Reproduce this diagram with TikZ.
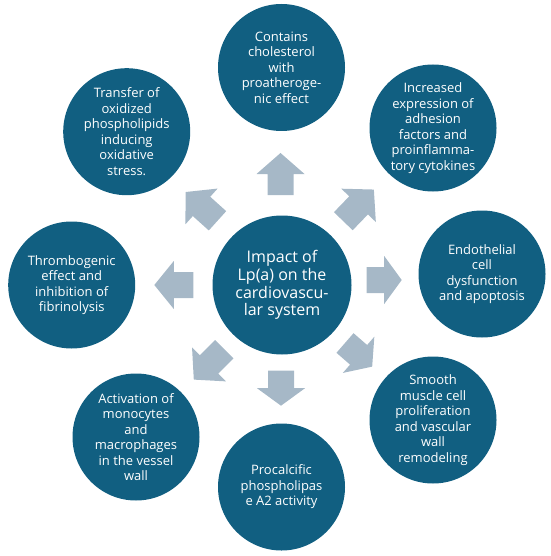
\documentclass[tikz,border=0pt]{standalone}
\usepackage{fontspec}
\setmainfont{Open Sans}
\definecolor{circfill}{HTML}{115F81}
\definecolor{arrfill}{RGB}{166,184,199}
\tikzset{
  outer/.style={circle, fill=circfill, text=white, minimum size=127pt, inner sep=0pt, align=center, font=\fontsize{13}{15.5}\selectfont},
  inner/.style={circle, fill=circfill, text=white, minimum size=139pt, inner sep=0pt, align=center, font=\fontsize{16}{17.8}\selectfont},
  arrowfill/.style={fill=arrfill}
}
\newcommand{\barrow}[4]{%
  \fill[arrowfill, shift={(#1,#2)}, rotate=#3]
    (0,-13) -- ({#4*0.5},-13) -- ({#4*0.5},-24) -- (#4,0) -- ({#4*0.5},24) -- ({#4*0.5},13) -- (0,13) -- cycle;}
\begin{document}
\begin{tikzpicture}[x=1pt, y=-1pt]
\useasboundingbox (0,0) rectangle (550,556);
\node[inner] (cen) at (282,285) {Impact of\\Lp(a) on the\\cardiovascu-\\lar system};
\node[outer] (top) at (281.5,67.5) {Contains\\cholesterol\\with\\proatheroge-\\nic effect};
\node[outer] (tl) at (126.7,131.7) {Transfer of\\oxidized\\phospholipids\\inducing\\oxidative\\stress.};
\node[outer] (tr) at (433,128) {Increased\\expression of\\adhesion\\factors and\\proinflamma-\\tory cytokines};
\node[outer] (rt) at (482,274) {Endothelial\\cell\\dysfunction\\and apoptosis};
\node[outer] (br) at (433,420) {Smooth\\muscle cell\\proliferation\\and vascular\\wall\\remodeling};
\node[outer] (bt) at (281.5,487) {Procalcific\\phospholipas\\e A2 activity};
\node[outer] (bl) at (136,437) {Activation of\\monocytes\\and\\macrophages\\in the vessel\\wall};
\node[outer] (lt) at (71.7,285) {Thrombogenic\\effect and\\inhibition of\\fibrinolysis};
% block arrows
\barrow{280.5}{195}{90}{42}
\barrow{343.3}{221.2}{46}{44}
\barrow{366.7}{280}{0}{35}
\barrow{345}{343}{-41}{36}
\barrow{281}{370.7}{-90}{35}
\barrow{224.2}{349.2}{225}{43}
\barrow{193.3}{285}{180}{39}
\barrow{217.5}{220.8}{138}{43}
\end{tikzpicture}
\end{document}
